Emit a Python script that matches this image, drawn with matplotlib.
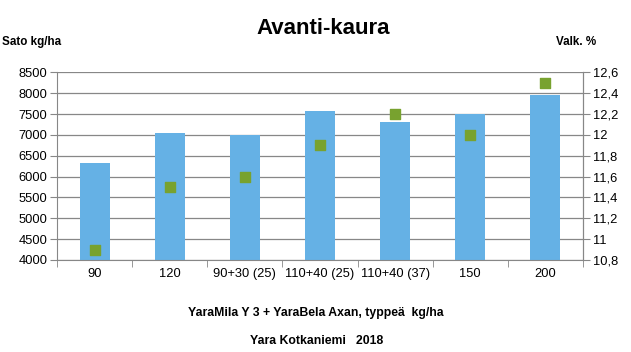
import matplotlib.pyplot as plt
import numpy as np

plt.rcParams['font.family'] = ['Liberation Sans', 'DejaVu Sans']

categories = ['90', '120', '90+30 (25)', '110+40 (25)', '110+40 (37)', '150', '200']
sato = [6330, 7055, 7000, 7580, 7315, 7500, 7965]
valk = [10.9, 11.5, 11.6, 11.9, 12.2, 12.0, 12.5]

left_ticks = list(range(4000, 8501, 500))
right_ticks = [10.8, 11.0, 11.2, 11.4, 11.6, 11.8, 12.0, 12.2, 12.4, 12.6]
right_labels = ['10,8', '11', '11,2', '11,4', '11,6', '11,8', '12', '12,2', '12,4', '12,6']

fig = plt.figure(figsize=(6.31, 3.52), dpi=100)
ax = fig.add_axes([57 / 631, 1 - 260 / 352, (583 - 57) / 631, (260 - 72.3) / 352])

x = np.arange(len(categories))
ax.bar(x, sato, width=0.4, color='#65b1e5', zorder=2)
ax.set_xlim(-0.5, len(categories) - 0.5)
ax.set_ylim(4000, 8500)
ax.set_yticks(left_ticks)
ax.grid(axis='y', color='#878787', linewidth=0.9, zorder=0)
ax.set_xticks(x)
ax.set_xticklabels(categories)
ax.set_xticks(np.arange(-0.5, len(categories), 1), minor=True)
ax.tick_params(axis='x', which='major', length=0, pad=6, labelsize=9.3)
ax.tick_params(axis='x', which='minor', length=5, color='#878787', direction='out')
ax.tick_params(axis='y', length=5, color='#878787', labelsize=9.3, pad=2)
ax.spines['top'].set_visible(False)
for s in ['left', 'right', 'bottom']:
    ax.spines[s].set_color('#878787')

ax2 = ax.twinx()
ax2.scatter(x, valk, marker='s', s=55, color='#78a22f', zorder=3)
ax2.set_ylim(10.8, 12.6)
ax2.set_yticks(right_ticks)
ax2.set_yticklabels(right_labels)
ax2.tick_params(axis='y', length=5, color='#878787', labelsize=9.3, pad=2)
ax2.spines['top'].set_visible(False)
ax2.spines['right'].set_color('#878787')
ax2.spines['left'].set_visible(False)
ax2.spines['bottom'].set_visible(False)

fig.text(323 / 631, 1 - 28 / 352, 'Avanti-kaura', ha='center', va='center',
         fontsize=16, fontweight='bold')
fig.text(2 / 631, 1 - 42 / 352, 'Sato kg/ha', ha='left', va='center',
         fontsize=8.4, fontweight='bold')
fig.text(576 / 631, 1 - 42 / 352, 'Valk. %', ha='center', va='center',
         fontsize=8.4, fontweight='bold')
fig.text(316 / 631, 1 - 313 / 352, 'YaraMila Y 3 + YaraBela Axan, typpeä  kg/ha',
         ha='center', va='center', fontsize=8.8, fontweight='bold')
fig.text(317 / 631, 1 - 341 / 352, 'Yara Kotkaniemi   2018',
         ha='center', va='center', fontsize=8.8, fontweight='bold')

fig.savefig('out.png', dpi=100)
